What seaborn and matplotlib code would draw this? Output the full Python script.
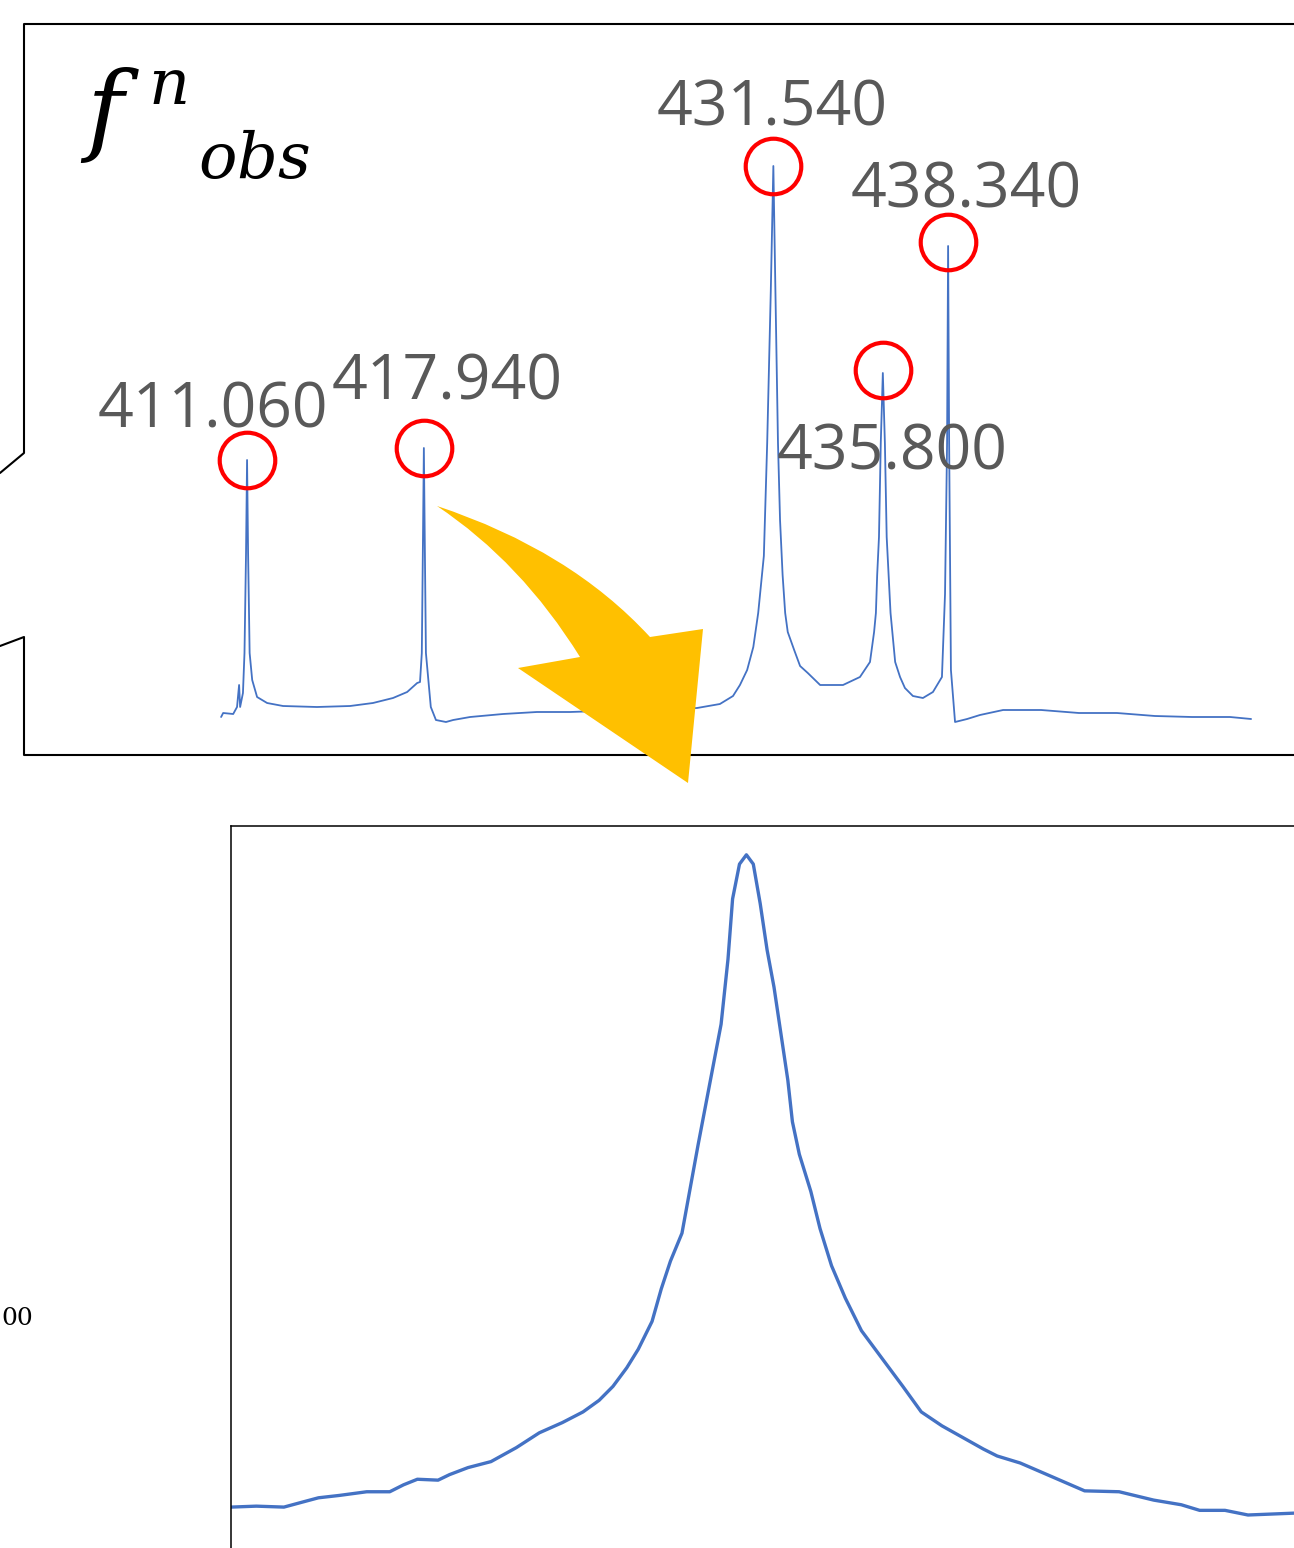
import numpy as np
import pandas as pd
import matplotlib
matplotlib.use("Agg")
import matplotlib.pyplot as plt
import seaborn as sns
from matplotlib.lines import Line2D
from matplotlib.patches import PathPatch
from matplotlib.path import Path

# ---------------- data ----------------
# observed spectrum f^n_obs : wavelength (nm) and intensity (a.u.)
spec_wl = [410.05, 410.13, 410.52, 410.67, 410.75, 410.79, 410.90, 410.96, 411.02,
           411.06, 411.10, 411.16, 411.26, 411.45, 411.84, 412.46, 413.78, 415.07,
           415.96, 416.74, 417.29, 417.68, 417.79, 417.86, 417.90, 417.94, 417.98,
           418.02, 418.21, 418.41, 418.80, 419.08, 419.74, 421.02, 422.34, 423.63,
           424.80, 426.74, 428.57, 429.46, 429.97, 430.24, 430.52, 430.76, 430.95,
           431.17, 431.30, 431.44, 431.54, 431.62, 431.72, 431.80, 431.90, 432.00,
           432.10, 432.35, 432.58, 432.88, 433.36, 434.25, 434.91, 435.30, 435.46,
           435.53, 435.58, 435.65, 435.72, 435.80, 435.88, 435.95, 436.10, 436.28,
           436.47, 436.66, 436.97, 437.36, 437.75, 438.10, 438.22, 438.30, 438.34,
           438.38, 438.45, 438.61, 439.08, 439.58, 440.48, 441.96, 443.43, 444.91,
           446.39, 447.83, 449.31, 450.13]
spec_int = [575, 675, 650, 825, 1375, 825, 1175, 2175, 4675,
            7000, 4675, 2175, 1500, 1075, 925, 850, 825, 850,
            925, 1050, 1200, 1425, 1450, 2175, 4675, 7300, 4675,
            2175, 825, 500, 450, 500, 575, 650, 700, 700,
            725, 750, 800, 900, 1100, 1375, 1750, 2325, 3175,
            4600, 7425, 11225, 14350, 11225, 7425, 5500, 4125, 3175,
            2700, 2250, 1850, 1675, 1375, 1375, 1575, 1950, 2700,
            3175, 4125, 5075, 7425, 9175, 7425, 5075, 3175, 1950,
            1575, 1300, 1100, 1050, 1200, 1575, 3650, 7425, 12350,
            7425, 1750, 450, 525, 625, 750, 750, 675, 675,
            600, 575, 575, 525]

# labelled peaks
peak_wl = [411.06, 417.94, 431.54, 435.80, 438.34]
peak_int = [7000, 7300, 14350, 9250, 12450]
peak_labels = ["411.060", "417.940", "431.540", "435.800", "438.340"]

# zoom on the 431.540 nm line
zoom_wl = [429.30, 429.41, 429.53, 429.62, 429.68, 429.77, 429.89, 429.99, 430.05,
           430.11, 430.20, 430.25, 430.33, 430.43, 430.54, 430.64, 430.74, 430.83,
           430.90, 430.96, 431.02, 431.07, 431.13, 431.17, 431.21, 431.26, 431.33,
           431.38, 431.43, 431.46, 431.48, 431.51, 431.54, 431.57, 431.60, 431.63,
           431.66, 431.69, 431.72, 431.74, 431.77, 431.82, 431.86, 431.91, 431.97,
           432.04, 432.13, 432.22, 432.30, 432.39, 432.48, 432.57, 432.63, 432.73,
           432.87, 433.01, 433.16, 433.31, 433.43, 433.51, 433.62, 433.72, 433.92]
zoom_int = [1058, 1077, 1058, 1170, 1244, 1291, 1365, 1365, 1504,
            1615, 1597, 1708, 1848, 1968, 2247, 2544, 2748, 2962,
            3194, 3472, 3844, 4215, 4772, 5422, 5979, 6536, 8301,
            9508, 10715, 12015, 13222, 13918, 14104, 13918, 13129, 12200,
            11457, 10529, 9600, 8765, 8115, 7372, 6629, 5886, 5237,
            4587, 4029, 3472, 2962, 2683, 2451, 2219, 2080, 1940,
            1662, 1383, 1365, 1198, 1105, 993, 993, 900, 937]

# ---------------- figure ----------------
sns.set_theme(style="white")
plt.rcParams["font.family"] = ["Open Sans", "DejaVu Sans"]
plt.rcParams["mathtext.fontset"] = "dejavuserif"

W, H = 1294, 1548
fig = plt.figure(figsize=(W / 100, H / 100), dpi=100)
fig.patch.set_facecolor("white")


def fx(px):
    return px / W


def fy(py):
    return 1 - py / H


BLUE = "#4472C4"
GREY = "#595959"

# top panel (observed spectrum)
ax1 = fig.add_axes([fx(24), fy(755), fx(1294) - fx(24), fy(24) - fy(755)])
spec = pd.DataFrame({"wl": spec_wl, "I": spec_int})
sns.lineplot(data=spec, x="wl", y="I", ax=ax1, color=BLUE, lw=1.3,
             estimator=None, sort=False)
ax1.plot(peak_wl, peak_int, "o", ms=40, mfc="none", mec="#FF0000", mew=3.0,
         clip_on=False)
ax1.set_xlim(402.38, 451.80)
ax1.set_ylim(-375, 17900)
ax1.axis("off")

label_pos = [(213, 428), (447, 400), (772, 125), (892, 470), (966, 208)]
for lab, (px, py) in zip(peak_labels, label_pos):
    fig.text(fx(px), fy(py), lab, ha="center", va="baseline",
             fontsize=45, color=GREY)

# callout frame of the top panel
fig.add_artist(Line2D([fx(1300), fx(24), fx(24), fx(0)],
                      [fy(24), fy(24), fy(453), fy(473)],
                      color="black", lw=1.5, transform=fig.transFigure))
fig.add_artist(Line2D([fx(0), fx(24), fx(24), fx(1300)],
                      [fy(646), fy(637), fy(755), fy(755)],
                      color="black", lw=1.5, transform=fig.transFigure))

# title f^n_obs
fig.text(fx(80), fy(142), r"$f$", fontsize=72, ha="left", va="baseline",
         color="black")
fig.text(fx(148), fy(104), r"$n$", fontsize=46, ha="left", va="baseline",
         color="black")
fig.text(fx(198), fy(178), r"$obs$", fontsize=46, ha="left", va="baseline",
         color="black")

# bottom panel (zoomed line)
ax2 = fig.add_axes([fx(231), fy(1548), fx(1294) - fx(231), fy(826) - fy(1548)])
zoom = pd.DataFrame({"wl": zoom_wl, "I": zoom_int})
sns.lineplot(data=zoom, x="wl", y="I", ax=ax2, color=BLUE, lw=2.4,
             estimator=None, sort=False, solid_joinstyle="round")
ax2.set_xlim(429.30, 433.92)
ax2.set_ylim(240, 14680)
ax2.set_xticks([])
ax2.set_yticks([])
ax2.set_xlabel("")
ax2.set_ylabel("")
for side in ["right", "bottom"]:
    ax2.spines[side].set_visible(False)
for side in ["left", "top"]:
    ax2.spines[side].set_visible(True)
    ax2.spines[side].set_color("black")
    ax2.spines[side].set_linewidth(1.1)

fig.text(fx(1), fy(1325), "00", ha="left", va="baseline", fontsize=18,
         family="DejaVu Serif", color="black")

# yellow curved arrow (quadratic Bezier edges)
P = lambda a, b: (fx(a), fy(b))
verts = [P(437, 506), P(570, 550), P(650, 637),      # outer arc
         P(703, 629), P(688, 783), P(518, 668), P(580, 657),  # head
         P(521, 562), P(437, 506), P(437, 506)]      # inner arc
codes = [Path.MOVETO, Path.CURVE3, Path.CURVE3,
         Path.LINETO, Path.LINETO, Path.LINETO, Path.LINETO,
         Path.CURVE3, Path.CURVE3, Path.CLOSEPOLY]
fig.add_artist(PathPatch(Path(verts, codes), facecolor="#FFC000",
                         edgecolor="none", zorder=10,
                         transform=fig.transFigure))

fig.savefig("out.png", dpi=100, facecolor="white")
